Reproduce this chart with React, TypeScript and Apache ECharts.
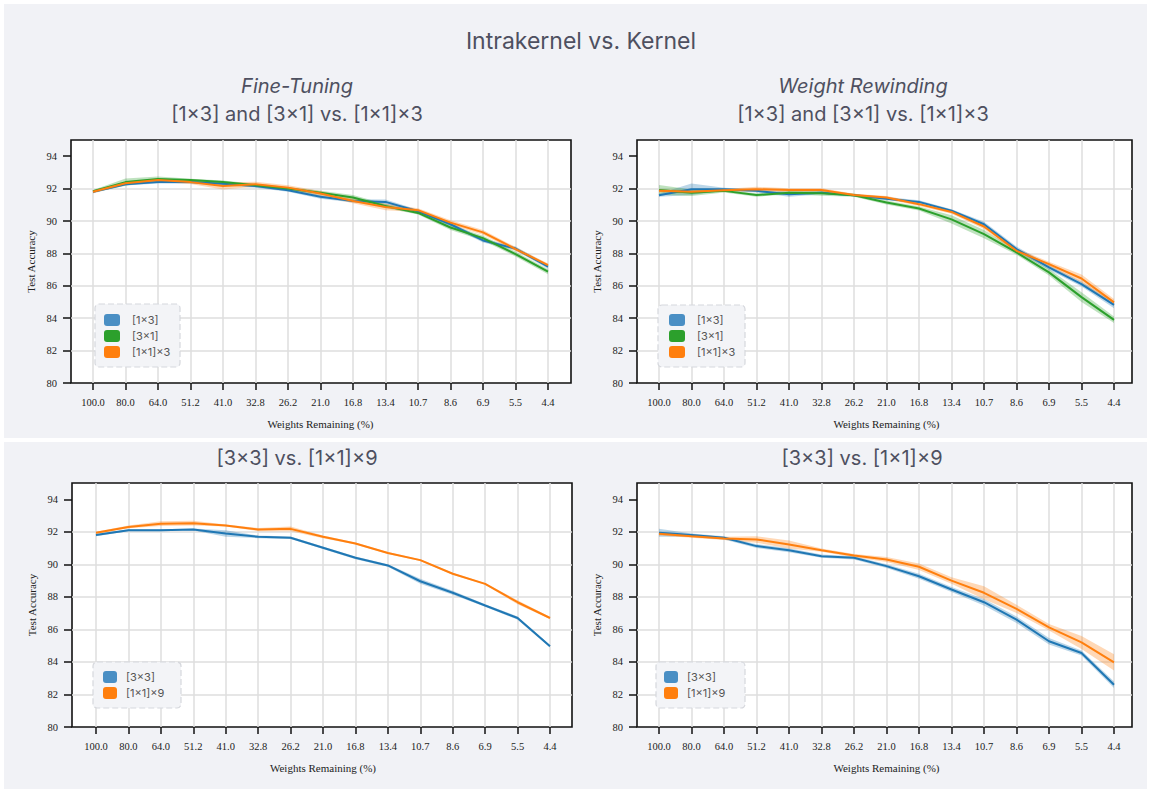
import React, { useEffect, useRef } from "react";
import * as echarts from "echarts";

const categories = ["100.0", "80.0", "64.0", "51.2", "41.0", "32.8", "26.2", "21.0", "16.8", "13.4", "10.7", "8.6", "6.9", "5.5", "4.4"];
const yTicks = [80, 82, 84, 86, 88, 90, 92, 94];

// Fine-Tuning: [1×3], [3×1], [1×1]×3 (mean and half-width of shaded band)
const ft1x3 = [91.8, 92.27, 92.4, 92.4, 92.3, 92.16, 91.9, 91.5, 91.24, 91.18, 90.6, 89.8, 88.8, 88.3, 87.18];
const ft1x3Spread = [0.08, 0.08, 0.08, 0.1, 0.1, 0.1, 0.1, 0.12, 0.1, 0.15, 0.1, 0.12, 0.12, 0.12, 0.12];
const ft3x1 = [91.84, 92.4, 92.6, 92.53, 92.4, 92.2, 92.0, 91.75, 91.45, 90.93, 90.5, 89.6, 88.94, 87.96, 86.87];
const ft3x1Spread = [0.08, 0.22, 0.15, 0.08, 0.1, 0.1, 0.1, 0.12, 0.15, 0.12, 0.1, 0.15, 0.15, 0.15, 0.15];
const ft1x1x3 = [91.8, 92.33, 92.53, 92.4, 92.16, 92.27, 92.06, 91.7, 91.24, 90.87, 90.67, 89.9, 89.3, 88.27, 87.28];
const ft1x1x3Spread = [0.08, 0.1, 0.1, 0.12, 0.22, 0.15, 0.15, 0.15, 0.15, 0.2, 0.12, 0.15, 0.15, 0.12, 0.1];

// Weight Rewinding: [1×3], [3×1], [1×1]×3
const wr1x3 = [91.59, 91.96, 91.96, 91.86, 91.65, 91.75, 91.59, 91.38, 91.18, 90.63, 89.8, 88.27, 87.14, 86.1, 84.82];
const wr1x3Spread = [0.1, 0.35, 0.1, 0.1, 0.15, 0.1, 0.08, 0.1, 0.1, 0.1, 0.15, 0.15, 0.15, 0.15, 0.2];
const wr3x1 = [91.92, 91.75, 91.86, 91.6, 91.75, 91.71, 91.59, 91.14, 90.77, 90.1, 89.19, 88.06, 86.83, 85.3, 83.9];
const wr3x1Spread = [0.3, 0.2, 0.1, 0.1, 0.1, 0.15, 0.1, 0.12, 0.12, 0.25, 0.25, 0.15, 0.2, 0.3, 0.2];
const wr1x1x3 = [91.86, 91.8, 91.9, 91.96, 91.92, 91.92, 91.6, 91.45, 91.04, 90.56, 89.66, 88.16, 87.34, 86.45, 84.98];
const wr1x1x3Spread = [0.1, 0.1, 0.08, 0.15, 0.1, 0.1, 0.08, 0.1, 0.12, 0.12, 0.15, 0.15, 0.15, 0.25, 0.2];

// Fine-Tuning: [3×3] vs [1×1]×9
const ft3x3 = [91.8, 92.1, 92.1, 92.14, 91.9, 91.69, 91.63, 91.02, 90.4, 89.93, 88.96, 88.25, 87.47, 86.7, 84.96];
const ft3x3Spread = [0.08, 0.06, 0.06, 0.06, 0.2, 0.08, 0.08, 0.08, 0.08, 0.08, 0.15, 0.12, 0.08, 0.1, 0.08];
const ft1x1x9 = [91.94, 92.3, 92.5, 92.53, 92.39, 92.14, 92.18, 91.69, 91.28, 90.7, 90.26, 89.42, 88.8, 87.67, 86.7];
const ft1x1x9Spread = [0.06, 0.08, 0.15, 0.15, 0.06, 0.1, 0.15, 0.08, 0.06, 0.06, 0.06, 0.06, 0.06, 0.12, 0.06];

// Weight Rewinding: [3×3] vs [1×1]×9
const wr3x3 = [91.94, 91.8, 91.63, 91.12, 90.87, 90.5, 90.4, 89.89, 89.27, 88.45, 87.67, 86.6, 85.27, 84.55, 82.6];
const wr3x3Spread = [0.25, 0.1, 0.1, 0.12, 0.12, 0.1, 0.1, 0.12, 0.15, 0.15, 0.2, 0.2, 0.2, 0.15, 0.2];
const wr1x1x9 = [91.88, 91.73, 91.59, 91.53, 91.22, 90.87, 90.54, 90.3, 89.85, 89.0, 88.25, 87.26, 86.13, 85.2, 83.97];
const wr1x1x9Spread = [0.1, 0.1, 0.1, 0.2, 0.25, 0.1, 0.1, 0.15, 0.2, 0.2, 0.4, 0.25, 0.2, 0.4, 0.5];

const BLUE = "#1f77b4";
const GREEN = "#2ca02c";
const ORANGE = "#ff7f0e";
const LEGEND_COLORS: Record<string, string> = { [BLUE]: "#4a8fc4", [GREEN]: "#2ca02c", [ORANGE]: "#ff7f0e" };

const SERIF = "'Liberation Serif', 'DejaVu Serif', 'Times New Roman', serif";
const SANS = "Inter, 'Noto Sans', sans-serif";
const TITLE_COLOR = "#4e5060";

type S = { name: string; color: string; mean: number[]; spread: number[] };
type Panel = {
  frame: { left: number; top: number; width: number; height: number };
  dataLeft: number;
  dataWidth: number;
  series: S[];
  box: [number, number, number, number];
  legendLeft: number;
  legendTop: number;
  itemWidth: number;
  textPad: number;
};

const panels: Panel[] = [
  {
    frame: { left: 71, top: 140, width: 500, height: 243 },
    dataLeft: 93,
    dataWidth: 455,
    series: [
      { name: "[1×3]", color: BLUE, mean: ft1x3, spread: ft1x3Spread },
      { name: "[3×1]", color: GREEN, mean: ft3x1, spread: ft3x1Spread },
      { name: "[1×1]×3", color: ORANGE, mean: ft1x1x3, spread: ft1x1x3Spread },
    ],
    box: [95, 304, 85, 63],
    legendLeft: 104,
    legendTop: 314,
    itemWidth: 16,
    textPad: 7,
  },
  {
    frame: { left: 637, top: 140, width: 495, height: 243 },
    dataLeft: 659,
    dataWidth: 455,
    series: [
      { name: "[1×3]", color: BLUE, mean: wr1x3, spread: wr1x3Spread },
      { name: "[3×1]", color: GREEN, mean: wr3x1, spread: wr3x1Spread },
      { name: "[1×1]×3", color: ORANGE, mean: wr1x1x3, spread: wr1x1x3Spread },
    ],
    box: [658, 305, 87, 62],
    legendLeft: 669,
    legendTop: 314,
    itemWidth: 16,
    textPad: 7,
  },
  {
    frame: { left: 72, top: 483, width: 500, height: 244 },
    dataLeft: 96,
    dataWidth: 454,
    series: [
      { name: "[3×3]", color: BLUE, mean: ft3x3, spread: ft3x3Spread },
      { name: "[1×1]×9", color: ORANGE, mean: ft1x1x9, spread: ft1x1x9Spread },
    ],
    box: [93, 662, 88, 46],
    legendLeft: 103,
    legendTop: 671,
    itemWidth: 14,
    textPad: 4,
  },
  {
    frame: { left: 637, top: 483, width: 495, height: 244 },
    dataLeft: 659,
    dataWidth: 455,
    series: [
      { name: "[3×3]", color: BLUE, mean: wr3x3, spread: wr3x3Spread },
      { name: "[1×1]×9", color: ORANGE, mean: wr1x1x9, spread: wr1x1x9Spread },
    ],
    box: [656, 662, 89, 46],
    legendLeft: 664,
    legendTop: 671,
    itemWidth: 14,
    textPad: 4,
  },
];

function buildOption() {
  const grid: any[] = [];
  const xAxis: any[] = [];
  const yAxis: any[] = [];
  const series: any[] = [];
  const legend: any[] = [];
  const graphic: any[] = [
    { type: "rect", shape: { x: 4, y: 4, width: 1143, height: 434 }, style: { fill: "#f1f2f6" }, z: -10, silent: true },
    { type: "rect", shape: { x: 4, y: 442, width: 1143, height: 347 }, style: { fill: "#f1f2f6" }, z: -10, silent: true },
  ];

  const tickLabel = { fontFamily: SERIF, fontSize: 10.5, color: "#222" };
  const gridLine = { color: "#dedede", width: 1.5 };

  panels.forEach((p, pi) => {
    const fi = pi * 2;
    const di = pi * 2 + 1;
    grid.push({
      left: p.frame.left,
      top: p.frame.top,
      width: p.frame.width,
      height: p.frame.height,
      show: true,
      backgroundColor: "#ffffff",
      borderColor: "#111111",
      borderWidth: 1.6,
    });
    grid.push({
      left: p.dataLeft,
      top: p.frame.top,
      width: p.dataWidth,
      height: p.frame.height,
      show: false,
    });
    xAxis.push({ type: "value", gridIndex: fi, min: 0, max: 1, show: false });
    xAxis.push({
      type: "category",
      gridIndex: di,
      data: categories,
      boundaryGap: false,
      axisLine: { show: false },
      axisTick: { show: true, interval: 0, length: 7, inside: false, lineStyle: { color: "#111", width: 1.5 } },
      axisLabel: { ...tickLabel, interval: 0, margin: 14 },
      splitLine: { show: true, interval: 0, lineStyle: gridLine },
      name: "Weights Remaining (%)",
      nameLocation: "middle",
      nameGap: 35,
      nameTextStyle: { fontFamily: SERIF, fontSize: 11, color: "#222" },
    });
    yAxis.push({
      type: "value",
      gridIndex: fi,
      min: 80,
      max: 95,
      interval: 2,
      axisLine: { show: false },
      axisTick: { show: true, length: 8, inside: false, customValues: yTicks, lineStyle: { color: "#111", width: 1.5 } },
      axisLabel: { ...tickLabel, customValues: yTicks, margin: 14 },
      splitLine: { show: true, showMinLine: false, showMaxLine: false, lineStyle: gridLine },
      name: "Test Accuracy",
      nameLocation: "middle",
      nameGap: 35,
      nameRotate: 90,
      nameTextStyle: { fontFamily: SERIF, fontSize: 11, color: "#222" },
    });
    yAxis.push({ type: "value", gridIndex: di, min: 80, max: 95, show: false });

    p.series.forEach((s, si) => {
      const lower = s.mean.map((m, i) => +(m - s.spread[i]).toFixed(3));
      const width = s.spread.map((d) => +(2 * d).toFixed(3));
      const stack = `band-${pi}-${si}`;
      series.push({
        type: "line",
        xAxisIndex: di,
        yAxisIndex: di,
        data: lower,
        stack,
        symbol: "none",
        silent: true,
        lineStyle: { opacity: 0, width: 0 },
        z: 2,
      });
      series.push({
        type: "line",
        xAxisIndex: di,
        yAxisIndex: di,
        data: width,
        stack,
        symbol: "none",
        silent: true,
        lineStyle: { opacity: 0, width: 0 },
        areaStyle: { color: s.color, opacity: 0.3 },
        z: 2,
      });
    });
    p.series.forEach((s) => {
      series.push({
        type: "line",
        name: s.name,
        xAxisIndex: di,
        yAxisIndex: di,
        data: s.mean,
        symbol: "none",
        lineStyle: { color: s.color, width: 2 },
        itemStyle: { color: s.color },
        z: 3,
      });
    });

    graphic.push({
      type: "rect",
      shape: { x: p.box[0], y: p.box[1], width: p.box[2], height: p.box[3], r: 4 },
      style: { fill: "#f3f4f7", stroke: "#d6d8dd", lineWidth: 1.2, lineDash: [6, 3] },
      z: 5,
      silent: true,
    });
    legend.push({
      orient: "vertical",
      left: p.legendLeft,
      top: p.legendTop,
      padding: 0,
      itemWidth: p.itemWidth,
      itemHeight: 12,
      itemGap: 4,
      icon: "roundRect",
      selectedMode: false,
      z: 7,
      textStyle: { fontFamily: SANS, fontSize: 11, color: "#555", padding: [0, 0, 0, p.textPad] },
      data: p.series.map((s) => ({
        name: s.name,
        icon: "roundRect",
        itemStyle: { color: LEGEND_COLORS[s.color], borderWidth: 0 },
        lineStyle: { width: 0, opacity: 0 },
      })),
    });
  });

  const txt = (text: string, x: number, y: number, size: number, italic = false) => ({
    type: "text",
    x,
    y,
    z: 8,
    silent: true,
    style: {
      text,
      fill: TITLE_COLOR,
      fontFamily: SANS,
      fontSize: size,
      fontStyle: italic ? "italic" : "normal",
      fontWeight: 400,
      align: "center",
      verticalAlign: "middle",
    },
  });
  graphic.push(txt("Intrakernel vs. Kernel", 581, 41, 23));
  graphic.push(txt("Fine-Tuning", 297, 86, 20, true));
  graphic.push(txt("[1×3] and [3×1] vs. [1×1]×3", 297, 114, 20));
  graphic.push(txt("Weight Rewinding", 863, 86, 20, true));
  graphic.push(txt("[1×3] and [3×1] vs. [1×1]×3", 863, 114, 20));
  graphic.push(txt("[3×3] vs. [1×1]×9", 297, 458, 20));
  graphic.push(txt("[3×3] vs. [1×1]×9", 862, 458, 20));

  return {
    animation: false,
    backgroundColor: "#ffffff",
    grid,
    xAxis,
    yAxis,
    series,
    legend,
    graphic,
  };
}

export default function App() {
  const ref = useRef<HTMLDivElement>(null);
  useEffect(() => {
    if (!ref.current) return;
    const chart = echarts.init(ref.current, undefined, { renderer: "svg" });
    chart.setOption(buildOption() as any);
    return () => chart.dispose();
  }, []);
  return (
    <div
      ref={ref}
      style={{ position: "fixed", left: 0, top: 0, width: 1151, height: 793 }}
    />
  );
}
